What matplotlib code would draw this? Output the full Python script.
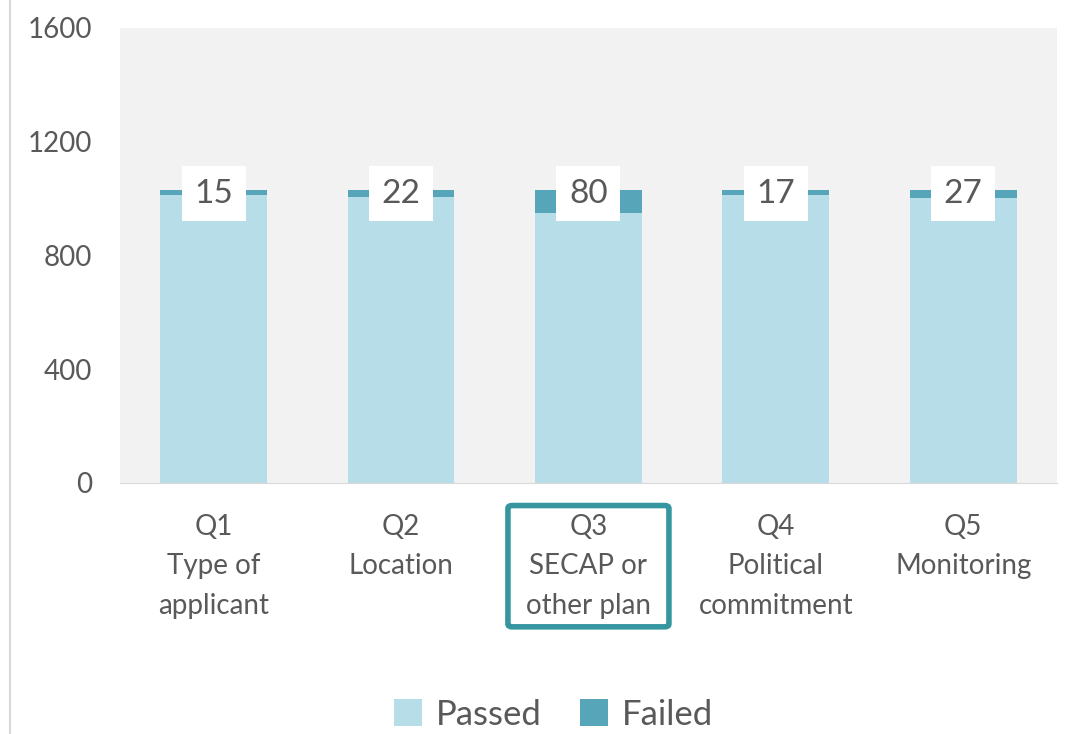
import matplotlib.pyplot as plt
from matplotlib.patches import FancyBboxPatch
from matplotlib.lines import Line2D
import numpy as np

# %% Data

questions = ['Q1\nType of\napplicant', 'Q2\nLocation', 'Q3\nSECAP or\nother plan',
             'Q4\nPolitical\ncommitment', 'Q5\nMonitoring']
passed = [1014, 1007, 949, 1012, 1002]
failed = [15, 22, 80, 17, 27]
yticks = [0, 400, 800, 1200, 1600]

# %% Style

plt.rcParams['font.family'] = ['Lato', 'DejaVu Sans']
textCol = '#595959'
passCol = '#b7dee8'
failCol = '#56a5b9'

fig = plt.figure(figsize=(10.73, 7.34), dpi=100)
ax = fig.add_axes([0.1118, 0.342, 0.8732, 0.620])
ax.set_facecolor('#f2f2f2')

x = np.arange(len(questions))
ax.bar(x, passed, width=0.57, color=passCol, label='Passed')
ax.bar(x, failed, width=0.57, bottom=passed, color=failCol, label='Failed')

# Value labels of the failed part

for i in range(len(x)):
    ax.text(x[i], passed[i]+failed[i]-12, str(failed[i]), ha='center', va='center',
            fontsize=24, color=textCol,
            bbox=dict(boxstyle='square,pad=0.38', fc='white', ec='none'))

ax.set_xlim(-0.5, len(x)-0.5)
ax.set_ylim(0, 1600)
ax.set_yticks(yticks)
ax.set_xticks(x)
ax.set_xticklabels(questions, linespacing=1.65)
ax.tick_params(axis='both', length=0, labelsize=20, labelcolor=textCol)
ax.tick_params(axis='y', pad=20)
ax.tick_params(axis='x', pad=22)

for side in ['top', 'right', 'left']:
    ax.spines[side].set_visible(False)
ax.spines['bottom'].set_color('#d9d9d9')

ax.legend(loc='upper center', bbox_to_anchor=(0.463, -0.405), ncol=2, frameon=False,
          fontsize=25, handlelength=0.8, handleheight=0.8, handletextpad=0.4,
          columnspacing=1.1, labelcolor=textCol)

# Left border line of the figure

fig.add_artist(Line2D([10/1073, 10/1073], [0, 1], color='#d9d9d9', lw=1.5))

# Highlight box around the Q3 label

fig.canvas.draw()
bb = ax.get_xticklabels()[2].get_window_extent()
W, H = fig.bbox.width, fig.bbox.height
padX, padY = 18, 8
box = FancyBboxPatch(((bb.x0-padX)/W, (bb.y0-padY)/H), (bb.width+2*padX)/W,
                     (bb.height+2*padY)/H, boxstyle='round,pad=0,rounding_size=0.004',
                     transform=fig.transFigure, fc='none', ec='#3596a0', lw=4)
fig.add_artist(box)

fig.savefig('out.png', dpi=100)
